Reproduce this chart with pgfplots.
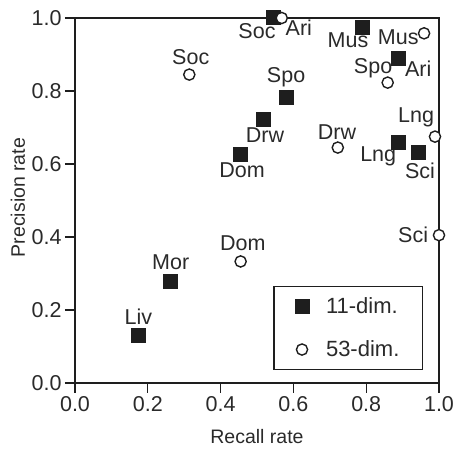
\documentclass[border=0pt]{standalone}
\usepackage{fontspec}
\setmainfont{Liberation Sans}
\usepackage{pgfplots}
\pgfplotsset{compat=1.18}
\definecolor{ink}{HTML}{1E1E1E}
\definecolor{txt}{HTML}{2A2A2A}
\begin{document}
\begin{tikzpicture}
\begin{axis}[
  scale only axis,
  width=364pt, height=365pt,
  xmin=0, xmax=1, ymin=0, ymax=1,
  xtick={0,0.2,...,1.0}, ytick={0,0.2,...,1.0},
  xticklabel style={/pgf/number format/.cd, fixed, fixed zerofill, precision=1},
  yticklabel style={/pgf/number format/.cd, fixed, fixed zerofill, precision=1},
  /pgf/number format/assume math mode=true,
  tick label style={font=\fontsize{21.5}{25}\selectfont, text=txt},
  tick align=outside, major tick length=10pt,
  xtick pos=bottom, ytick pos=left,
  tick style={line width=1.1pt, color=ink},
  axis line style={line width=1.2pt, color=ink},
  xlabel={Recall rate}, ylabel={Precision rate},
  label style={font=\fontsize{19.5}{22}\selectfont, text=txt},
  xlabel style={at={(axis description cs:0.5,0)}, anchor=center, yshift=-54pt},
  ylabel style={at={(axis description cs:0,0.5)}, anchor=center, yshift=57pt, xshift=3pt},
  clip=false,
  legend style={at={(0.956,0.036)}, anchor=south east, draw=ink, line width=1.2pt,
    font=\fontsize{22}{25}\selectfont, text=txt,
    inner xsep=21pt, inner ysep=9pt, row sep=22pt},
  legend cell align=left,
]
\addplot[only marks, mark=square*, mark size=7pt, color=ink, mark options={line width=0pt}]
  coordinates {
    (0.545,1.000) (0.791,0.975) (0.890,0.890) (0.582,0.781) (0.519,0.723)
    (0.455,0.627) (0.888,0.658) (0.943,0.631) (0.263,0.279) (0.174,0.129)
  };
\addlegendentry{\hspace{15pt}11-dim.}
\addplot[only marks, mark=*, mark size=5.6pt, color=ink, mark options={fill=white, line width=1.4pt}]
  coordinates {
    (0.568,1.000) (0.959,0.958) (0.314,0.845) (0.859,0.823) (0.989,0.675)
    (0.722,0.645) (1.000,0.405) (0.455,0.333)
  };
\addlegendentry{\hspace{15pt}53-dim.}
\begin{scope}[every node/.style={font=\fontsize{21.5}{25}\selectfont, text=txt, inner sep=0pt, anchor=center}]
\node at (axis cs:0.500,0.964) {Soc};
\node at (axis cs:0.615,0.973) {Ari};
\node at (axis cs:0.750,0.940) {Mus};
\node at (axis cs:0.888,0.948) {Mus};
\node at (axis cs:0.318,0.894) {Soc};
\node at (axis cs:0.580,0.838) {Spo};
\node at (axis cs:0.819,0.862) {Spo};
\node at (axis cs:0.943,0.860) {Ari};
\node at (axis cs:0.937,0.729) {Lng};
\node at (axis cs:0.720,0.688) {Drw};
\node at (axis cs:0.522,0.679) {Drw};
\node at (axis cs:0.833,0.622) {Lng};
\node at (axis cs:0.948,0.581) {Sci};
\node at (axis cs:0.459,0.584) {Dom};
\node at (axis cs:0.929,0.405) {Sci};
\node at (axis cs:0.461,0.384) {Dom};
\node at (axis cs:0.263,0.332) {Mor};
\node at (axis cs:0.174,0.181) {Liv};
\end{scope}
\end{axis}
\pgfresetboundingbox
\useasboundingbox (-75pt,-67pt) rectangle (381pt,383pt);
\end{tikzpicture}
\end{document}
